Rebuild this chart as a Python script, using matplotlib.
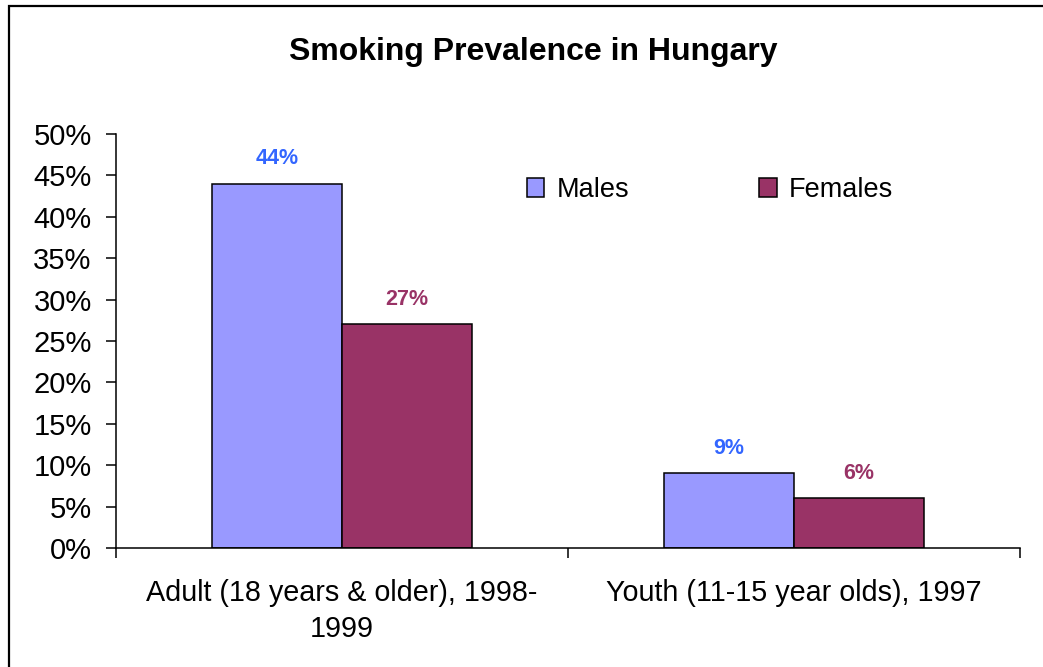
import matplotlib
matplotlib.use("Agg")
import matplotlib.pyplot as plt
from matplotlib.patches import Rectangle
from matplotlib.ticker import PercentFormatter

plt.rcParams['font.family'] = ['Liberation Sans', 'DejaVu Sans']

categories = ['Adult (18 years & older), 1998-\n1999', 'Youth (11-15 year olds), 1997']
males = [44, 9]
females = [27, 6]
series_names = ['Males', 'Females']

male_color = '#9999FF'
female_color = '#993366'
male_label_color = '#3366FF'

fig = plt.figure(figsize=(10.43, 6.67), dpi=100)
ax = fig.add_axes([116 / 1043, 1 - 548 / 667, (1020 - 116) / 1043, (548 - 134) / 667])

w = 130 / 452
x = list(range(len(categories)))
b1 = ax.bar([i - w / 2 for i in x], males, w, color=male_color, edgecolor='black',
            linewidth=1.1, label=series_names[0])
b2 = ax.bar([i + w / 2 for i in x], females, w, color=female_color, edgecolor='black',
            linewidth=1.1, label=series_names[1])

for bars, vals, col in [(b1, males, male_label_color), (b2, females, female_color)]:
    for bar, v in zip(bars, vals):
        ax.annotate(f'{v}%', (bar.get_x() + bar.get_width() / 2, v),
                    xytext=(0, 18), textcoords='offset points',
                    ha='center', va='center', fontsize=15.5, fontweight='bold', color=col)

ax.set_xlim(-0.5, len(categories) - 0.5)
ax.set_ylim(0, 50)
ax.set_yticks(range(0, 51, 5))
ax.yaxis.set_major_formatter(PercentFormatter(decimals=0))
ax.tick_params(axis='y', labelsize=21, length=7.5, width=1.1, direction='out', pad=10)

# ticks at category boundaries, labels at category centres
ax.set_xticks([i - 0.5 for i in range(len(categories) + 1)])
ax.set_xticklabels([])
ax.set_xticks(x, minor=True)
ax.set_xticklabels(categories, minor=True, fontsize=20.7, linespacing=1.4)
ax.tick_params(axis='x', which='major', length=7.5, width=1.1, direction='out')
ax.tick_params(axis='x', which='minor', length=0, pad=22)

for s in ['top', 'right']:
    ax.spines[s].set_visible(False)
for s in ['left', 'bottom']:
    ax.spines[s].set_linewidth(1.1)

fig.text(533 / 1043, 1 - 52 / 667, 'Smoking Prevalence in Hungary', ha='center', va='center',
         fontsize=23, fontweight='bold')

fig.legend(loc='center left', bbox_to_anchor=(513 / 1043, 1 - 190 / 667), ncol=2,
           frameon=False, fontsize=19.5, handlelength=0.65, handleheight=0.65,
           handletextpad=0.45, columnspacing=4.8, borderpad=0)

# outer chart border
fig.patches.append(Rectangle((8.5 / 1043, -0.1), 1.2, 1.1 - 5.5 / 667, transform=fig.transFigure,
                             fill=False, edgecolor='black', linewidth=1.6, clip_on=False))

fig.savefig('out.png', dpi=100)
